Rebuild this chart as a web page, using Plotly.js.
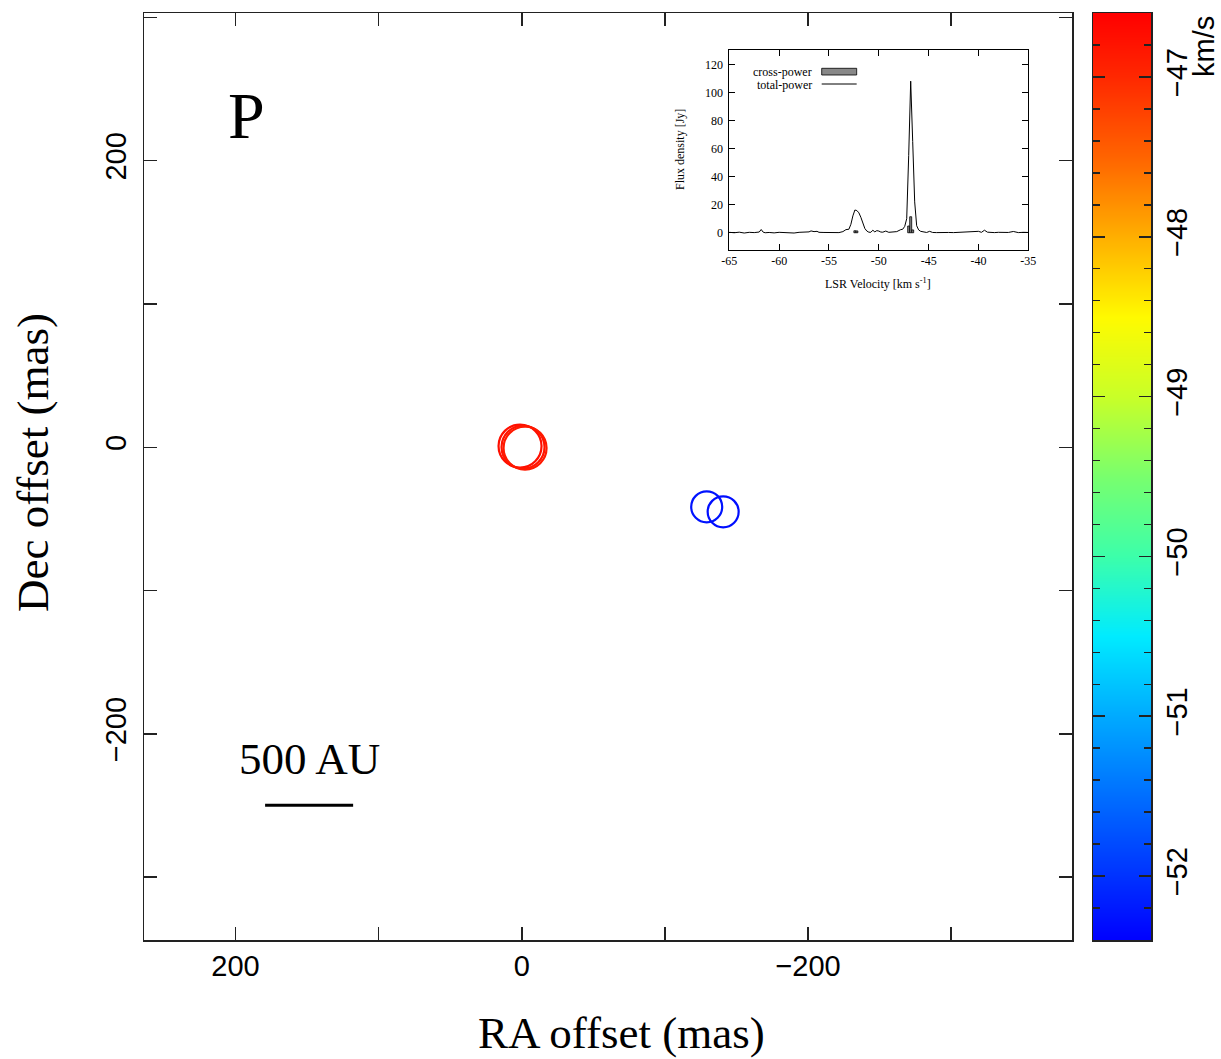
<!DOCTYPE html>
<html>
<head>
<meta charset="utf-8">
<script src="https://cdn.plot.ly/plotly-3.0.1.min.js"></script>
<style>html,body{margin:0;padding:0;background:#fff;}</style>
</head>
<body>
<div id="chart" style="width:1221px;height:1059px;"></div>
<script>
// ---- maser spot data (RA offset mas, Dec offset mas, LSR velocity km/s) ----
const redRA   = [1.2, -0.9, -2.3];
const redDec  = [0.9, 0.2, -0.5];
const redVel  = [-46.75, -46.8, -46.85];
const blueRA  = [-129.2, -140.7];
const blueDec = [-41.5, -45.0];
const blueVel = [-52.25, -52.3];

// ---- main axes ticks (labelled every 200 mas, unlabelled every 100 mas) ----
const mainTickStep = 200;
const mainMinorStep = 100;

// ---- colour bar (velocity scale) ----
const velRange = [-52.4, -46.6];
const cbTickVals = [-52, -51, -50, -49, -48, -47];
const cbTickText = ['\u221252', '\u221251', '\u221250', '\u221249', '\u221248', '\u221247'];
const colorStopVel = [-52.4, -52, -51.5, -51, -50.5, -50, -49.5, -49, -48.5, -48, -47.5, -47, -46.6];
const colorStopRGB = ['rgb(0,0,255)', 'rgb(0,50,255)', 'rgb(0,110,255)', 'rgb(0,170,255)',
  'rgb(0,235,255)', 'rgb(60,255,170)', 'rgb(120,255,110)', 'rgb(200,255,40)', 'rgb(255,250,0)',
  'rgb(255,175,0)', 'rgb(255,100,0)', 'rgb(255,40,0)', 'rgb(255,0,0)'];

// ---- inset spectrum: total-power ----
const tpVel = [-65, -64.5, -64, -63.5, -63, -62.5, -62, -61.8, -61.6, -61.4, -61, -60.5, -60, -59.5, -59, -58.5,
  -58, -57.5, -57, -56.8, -56.5, -56.2, -56, -55.5, -55, -54.5, -54, -53.6, -53.3, -53.0, -52.8, -52.6, -52.4,
  -52.2, -52.0, -51.8, -51.6, -51.4, -51.2, -51.0, -50.8, -50.6, -50.4, -50.2, -50.0, -49.8, -49.6, -49.3,
  -49.0, -48.6, -48.2, -47.8, -47.6, -47.4, -47.2, -47.0, -46.8, -46.6, -46.4, -46.2, -46.0, -45.8, -45.5,
  -45.2, -44.9, -44.6, -44.2, -43.8, -43.4, -43, -42.5, -42, -41.5, -41, -40.5, -40, -39.7, -39.4, -39.1,
  -38.8, -38.4, -38, -37.5, -37, -36.5, -36.2, -36, -35.5, -35];
const tpFlux = [0.3, 0.0, 0.4, -0.2, 0.3, 0.1, 0.5, 2.3, 0.4, 0.0, 0.2, -0.1, 0.3, 0.1, 0.2, -0.2,
  0.3, 0.2, 0.6, 1.3, 0.8, 1.0, 0.3, 0.2, 0.0, 0.3, 0.1, 0.8, 2.2, 2.5, 6, 12, 16.2,
  15.8, 14.2, 11, 6.5, 3, 1.2, 0.4, 0.3, 1.8, 0.6, 1.5, 1.2, 0.5, 0.4, 1.2,
  0.3, 0.4, 0.8, 2.2, 2.5, 4.5, 10, 55, 108, 65, 22, 5, 2, 1.0, 0.4,
  0.2, 1.0, 0.2, 0.1, 0.3, 0.0, 0.2, 0.1, 0.3, 0.0, 0.2, 0.5, 1.0, 0.3, 1.8, 0.4,
  0.2, 0.1, 0.3, 0.0, 0.2, 0.9, 0.2, 0.1, 0.3, 0.2];

// ---- inset spectrum: cross-power ----
const cpVel  = [-52.4, -52.2, -47.0, -46.8, -46.6];
const cpFlux = [1.4, 1.3, 4.8, 11.4, 2.0];

// ---- inset ticks ----
const specXTicks = [-65, -60, -55, -50, -45, -40, -35];
const specXText  = ['-65', '-60', '-55', '-50', '-45', '-40', '-35'];
const specYTicks = [0, 20, 40, 60, 80, 100, 120];

// colourscale built from the velocity stops
const cscale = colorStopVel.map((v, i) => [(v - velRange[0]) / (velRange[1] - velRange[0]), colorStopRGB[i]]);

const W = 1221, H = 1059;
const M = {l: 144, r: 70, t: 13, b: 119};
const PW = W - M.l - M.r, PH = H - M.t - M.b;
const mainRight = 928 / PW;
const cbLeft = (1093 - M.l) / PW;

const serif = 'Liberation Serif, Times New Roman, serif';
const sans = 'Liberation Sans, Arial, sans-serif';

const traces = [
  {
    type: 'scatter', mode: 'markers', x: redRA, y: redDec, xaxis: 'x', yaxis: 'y',
    marker: {symbol: 'circle-open', size: 43, color: redVel, colorscale: cscale,
      cmin: velRange[0], cmax: velRange[1], line: {width: 2.2}, showscale: false},
    showlegend: false, hoverinfo: 'skip'
  },
  {
    type: 'scatter', mode: 'markers', x: blueRA, y: blueDec, xaxis: 'x', yaxis: 'y',
    marker: {symbol: 'circle-open', size: 31, color: blueVel, colorscale: cscale,
      cmin: velRange[0], cmax: velRange[1], line: {width: 2.2}, showscale: false},
    showlegend: false, hoverinfo: 'skip'
  },
  {
    type: 'bar', x: cpVel, y: cpFlux, xaxis: 'x2', yaxis: 'y2', width: 0.2,
    marker: {color: '#888888', line: {color: '#000', width: 0.8}},
    showlegend: false, hoverinfo: 'skip'
  },
  {
    type: 'scatter', mode: 'lines', x: tpVel, y: tpFlux, xaxis: 'x2', yaxis: 'y2',
    line: {color: '#000', width: 1},
    showlegend: false, hoverinfo: 'skip'
  },
  {
    // colour bar strip: the colour stops drawn on their own velocity axis
    type: 'heatmap', x: [0, 1], y: colorStopVel, z: colorStopVel.map(v => [v, v]),
    xaxis: 'x3', yaxis: 'y3', colorscale: cscale, zmin: velRange[0], zmax: velRange[1],
    zsmooth: 'best', showscale: false, hoverinfo: 'skip'
  }
];

const axLine = {showline: true, linecolor: '#222', linewidth: 1.5, mirror: 'ticks',
  ticks: 'inside', ticklen: 13, tickwidth: 1.5, tickcolor: '#222',
  tickmode: 'linear', tick0: 0, dtick: mainTickStep,
  minor: {tickmode: 'linear', tick0: 0, dtick: mainMinorStep, ticks: 'inside', ticklen: 13,
    tickwidth: 1.5, tickcolor: '#222', showgrid: false},
  showgrid: false, zeroline: false};

const insetX0 = (729.3 - M.l) / PW, insetX1 = (1028.3 - M.l) / PW;
const insetY0 = (940 - 250) / PH, insetY1 = (940 - 50) / PH;

const layout = {
  width: W, height: H, margin: M,
  paper_bgcolor: '#fff', plot_bgcolor: '#fff',
  showlegend: false,
  xaxis: Object.assign({}, axLine, {domain: [0, mainRight], anchor: 'y',
    range: [263.9, -384.4], tickfont: {family: sans, size: 29, color: '#000'}}),
  yaxis: Object.assign({}, axLine, {domain: [0, 1], anchor: 'x',
    range: [-343.8, 303.1], tickangle: -90, ticklabelstandoff: 5,
    tickfont: {family: sans, size: 29, color: '#000'}}),
  xaxis2: {domain: [insetX0, insetX1], anchor: 'y2', range: [-65, -35],
    showline: true, linecolor: '#000', linewidth: 1, mirror: 'ticks',
    ticks: 'inside', ticklen: 6, tickwidth: 1, tickcolor: '#000',
    tickvals: specXTicks, ticktext: specXText, showgrid: false, zeroline: false,
    tickfont: {family: serif, size: 12, color: '#000'}},
  yaxis2: {domain: [insetY0, insetY1], anchor: 'x2', range: [-12.3, 130.2],
    showline: true, linecolor: '#000', linewidth: 1, mirror: 'ticks',
    ticks: 'inside', ticklen: 6, tickwidth: 1, tickcolor: '#000', ticklabelstandoff: 3,
    tickvals: specYTicks, showgrid: false, zeroline: false,
    tickfont: {family: serif, size: 12, color: '#000'}},
  xaxis3: {domain: [cbLeft, 1], anchor: 'y3', range: [0, 1],
    showline: true, linecolor: '#222', linewidth: 1.5, mirror: true,
    showticklabels: false, ticks: '', showgrid: false, zeroline: false, fixedrange: true},
  yaxis3: {domain: [0, 1], anchor: 'x3', side: 'right', range: velRange,
    showline: true, linecolor: '#222', linewidth: 1.5, mirror: 'ticks',
    ticks: 'inside', ticklen: 12, tickwidth: 1.5, tickcolor: '#222',
    tickvals: cbTickVals, ticktext: cbTickText, tickangle: -90,
    minor: {dtick: 0.2, tick0: -52, ticks: 'inside', ticklen: 7, tickwidth: 1.5, tickcolor: '#222'},
    tickfont: {family: sans, size: 29, color: '#000'},
    showgrid: false, zeroline: false, fixedrange: true},
  shapes: [
    {type: 'rect', xref: 'x2 domain', yref: 'y2 domain', x0: 0, x1: 1, y0: 0, y1: 1,
      fillcolor: '#fff', line: {width: 0}, layer: 'below'},
    {type: 'line', xref: 'x', yref: 'y', x0: 179.3, x1: 117.8, y0: -249.8, y1: -249.8,
      line: {color: '#000', width: 3}},
    {type: 'rect', xref: 'x2 domain', yref: 'y2 domain', x0: 0.309, x1: 0.426, y0: 0.875, y1: 0.9085,
      fillcolor: '#888888', line: {color: '#000', width: 0.8}},
    {type: 'line', xref: 'x2 domain', yref: 'y2 domain', x0: 0.309, x1: 0.426, y0: 0.83, y1: 0.83,
      line: {color: '#000', width: 1}}
  ],
  annotations: [
    {text: 'RA offset (mas)', xref: 'paper', yref: 'paper', x: (621 - M.l) / PW, y: (1059 - 1033 - M.b) / PH,
      showarrow: false, font: {family: serif, size: 45, color: '#000'}, xanchor: 'center', yanchor: 'middle'},
    {text: 'Dec offset (mas)', xref: 'paper', yref: 'paper', x: (33 - M.l) / PW, y: (940 - 463) / PH,
      textangle: -90, showarrow: false, font: {family: serif, size: 45, color: '#000'},
      xanchor: 'center', yanchor: 'middle'},
    {text: 'km/s', xref: 'paper', yref: 'paper', x: (1204 - M.l) / PW, y: (940 - 47) / PH,
      textangle: -90, showarrow: false, font: {family: sans, size: 29, color: '#000'},
      xanchor: 'center', yanchor: 'middle'},
    {text: 'P', xref: 'x', yref: 'y', x: 192.3, y: 231.5, showarrow: false,
      font: {family: serif, size: 66, color: '#000'}, xanchor: 'center', yanchor: 'middle'},
    {text: '500 AU', xref: 'x', yref: 'y', x: 148.5, y: -217.4, showarrow: false,
      font: {family: serif, size: 45, color: '#000'}, xanchor: 'center', yanchor: 'middle'},
    {text: 'cross-power', xref: 'x2 domain', yref: 'y2 domain', x: 0.283, y: 0.892, showarrow: false,
      font: {family: serif, size: 12, color: '#000'}, xanchor: 'right', yanchor: 'middle'},
    {text: 'total-power', xref: 'x2 domain', yref: 'y2 domain', x: 0.283, y: 0.827, showarrow: false,
      font: {family: serif, size: 12, color: '#000'}, xanchor: 'right', yanchor: 'middle'},
    {text: 'LSR Velocity [km s<sup>-1</sup>]', xref: 'paper', yref: 'paper',
      x: (878 - M.l) / PW, y: (940 - 283) / PH, showarrow: false,
      font: {family: serif, size: 12, color: '#000'}, xanchor: 'center', yanchor: 'middle'},
    {text: 'Flux density [Jy]', xref: 'paper', yref: 'paper', textangle: -90,
      x: (680 - M.l) / PW, y: (940 - 150) / PH, showarrow: false,
      font: {family: serif, size: 12, color: '#000'}, xanchor: 'center', yanchor: 'middle'}
  ]
};

Plotly.newPlot('chart', traces, layout, {displayModeBar: false, staticPlot: true});
</script>
</body>
</html>
